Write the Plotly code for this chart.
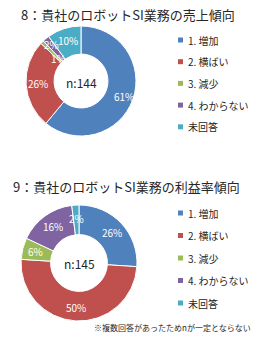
import math
import plotly.graph_objects as go

W, H = 257, 341

labels = ["1. 増加", "2. 横ばい", "3. 減少", "4. わからない", "未回答"]
colors = ["#4F81BD", "#C0504D", "#9BBB59", "#8064A2", "#4BACC6"]
sales_values = [61, 26, 1, 2, 10]
profit_values = [26, 50, 6, 16, 2]
title1 = "8：貴社のロボットSI業務の売上傾向"
title2 = "9：貴社のロボットSI業務の利益率傾向"
n1, n2 = "n:144", "n:145"
footnote = "※複数回答があったためnが一定とならない"

FONT = "Noto Sans CJK JP"
HOLE = 0.49

def px(x):
    return x / W

def py(y):
    return 1 - y / H

fig = go.Figure()
annotations = []
shapes = []

def add_pie(values, cx, cy, r, label_scale):
    fig.add_trace(go.Pie(
        labels=labels, values=values, hole=HOLE, sort=False,
        direction="clockwise", rotation=0,
        marker=dict(colors=colors, line=dict(color="white", width=1)),
        textinfo="none",
        domain=dict(x=[px(cx - r), px(cx + r)], y=[py(cy + r), py(cy - r)]),
        showlegend=False, hoverinfo="label+percent",
    ))
    # percentage labels placed at the middle of the ring, derived from the values
    total = sum(values)
    cum = 0
    rmid = r * (1 + HOLE) / 2 * 1.04
    for v, s in zip(values, label_scale):
        mid = (cum + v / 2) / total * 2 * math.pi
        cum += v
        rr = rmid * s
        x = cx + rr * math.sin(mid)
        y = cy - rr * math.cos(mid)
        annotations.append(dict(text=f"{round(v / total * 100)}%", x=px(x), y=py(y),
                                xref="paper", yref="paper", xanchor="center", yanchor="middle",
                                showarrow=False,
                                font=dict(size=10, family=FONT, color="white")))

add_pie(sales_values, 81, 81, 55, [1.08, 1.0, 0.74, 1.1, 1.0])
add_pie(profit_values, 79, 263, 58, [1.0, 1.0, 1.0, 1.0, 1.0])

def txt(text, x, y, size, xanchor="center", color="#262626"):
    annotations.append(dict(text=text, x=px(x), y=py(y), xref="paper", yref="paper",
                            xanchor=xanchor, yanchor="middle", showarrow=False,
                            font=dict(size=size, family=FONT, color=color)))

txt(title1, 128, 15, 13)
txt(title2, 126, 187, 13)
txt(n1, 81, 82, 12)
txt(n2, 79, 263, 12)
txt(footnote, 172, 327, 8)

def add_legend(y0, step):
    for i, (lab, col) in enumerate(zip(labels, colors)):
        y = y0 + i * step
        shapes.append(dict(type="rect", xref="paper", yref="paper",
                           x0=px(178), x1=px(183), y0=py(y + 2.5), y1=py(y - 2.5),
                           fillcolor=col, line=dict(width=0)))
        txt(lab, 185.5, y, 10, xanchor="left")

add_legend(40, 21.7)
add_legend(213, 22.5)

fig.update_layout(
    width=W, height=H, margin=dict(l=0, r=0, t=0, b=0),
    paper_bgcolor="white", plot_bgcolor="white",
    annotations=annotations, shapes=shapes,
    showlegend=False,
)

fig.write_html("out.html", config={"displayModeBar": False})
